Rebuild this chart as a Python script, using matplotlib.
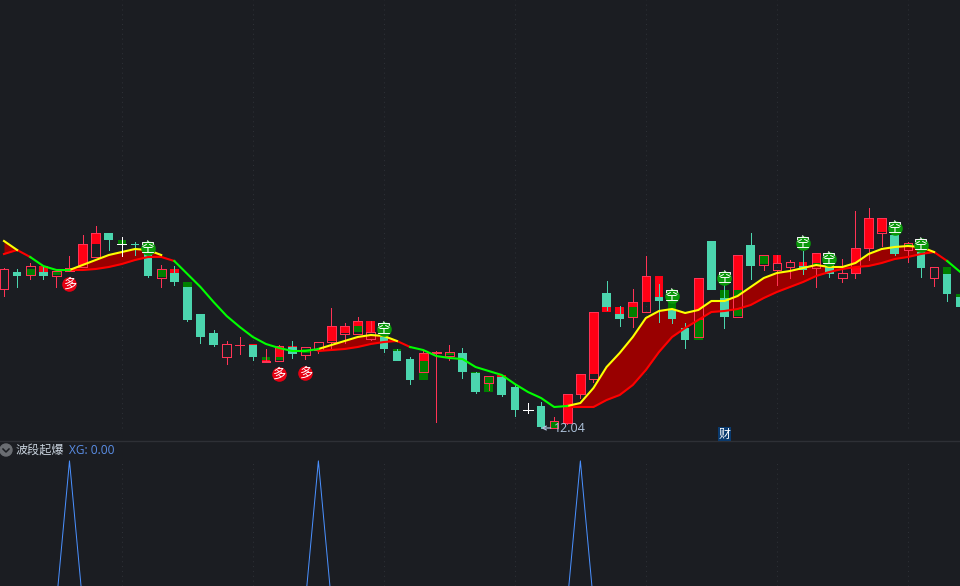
"""波段起爆 K-line chart with indicator ribbon and XG sub panel."""

import matplotlib
matplotlib.use("Agg")
import matplotlib.pyplot as plt
from matplotlib.lines import Line2D
from matplotlib.patches import Ellipse

FONT_CJK = ["Noto Sans CJK SC", "DejaVu Sans"]

opens = [14.82, 15.16, 15.10, 15.16, 15.08, 15.18, 15.26, 15.46, 15.94, 15.72,
         15.72, 15.60, 15.04, 15.14, 14.86, 14.32, 13.94, 13.46, 13.70, 13.70,
         13.36, 13.38, 13.66, 13.50, 13.60, 13.76, 13.92, 13.92, 13.82, 13.86,
         13.58, 13.42, 13.16, 13.54, 13.48, 13.54, 13.14, 12.94, 13.06, 12.86,
         12.40, 12.48, 12.04, 12.14, 12.72, 13.02, 14.74, 14.32, 14.26, 14.36,
         14.66, 14.40, 14.04, 13.86, 15.78, 14.64, 14.26, 15.70, 15.30, 15.20,
         15.26, 15.28, 15.24, 15.30, 15.04, 15.14, 15.64, 15.94, 15.90, 15.60,
         15.56, 15.04, 15.12, 14.66]
closes = [15.22, 15.08, 15.28, 15.08, 15.18, 15.24, 15.72, 15.94, 15.80, 15.72,
          15.70, 15.08, 15.22, 14.96, 14.20, 13.86, 13.70, 13.72, 13.70, 13.46,
          13.38, 13.68, 13.52, 13.66, 13.76, 14.08, 14.08, 14.18, 13.96, 13.62,
          13.38, 13.00, 13.54, 13.56, 13.56, 13.16, 12.76, 13.08, 12.70, 12.40,
          12.40, 12.06, 12.18, 12.72, 13.12, 14.36, 14.46, 14.22, 14.56, 15.08,
          14.58, 14.22, 13.80, 15.04, 14.80, 14.26, 15.50, 15.28, 15.50, 15.34,
          15.36, 15.20, 15.54, 15.12, 15.14, 15.64, 16.24, 16.24, 15.52, 15.74,
          15.24, 15.26, 14.72, 14.46]
highs = [15.24, 15.22, 15.34, 15.28, 15.18, 15.48, 15.90, 16.08, 15.94, 15.86,
         15.76, 15.60, 15.30, 15.28, 14.86, 14.32, 14.00, 13.78, 13.86, 13.70,
         13.62, 13.70, 13.78, 13.66, 13.76, 14.44, 14.14, 14.26, 14.18, 13.90,
         13.62, 13.46, 13.60, 13.58, 13.70, 13.64, 13.16, 13.08, 13.10, 12.90,
         12.54, 12.56, 12.26, 12.72, 13.12, 14.36, 14.98, 14.48, 14.82, 15.48,
         14.92, 14.40, 14.14, 15.04, 15.78, 14.90, 15.50, 15.94, 15.50, 15.50,
         15.40, 15.58, 15.54, 15.30, 15.42, 16.38, 16.44, 16.24, 15.90, 15.76,
         15.64, 15.26, 15.12, 14.66]
lows = [14.68, 14.86, 15.02, 15.02, 14.86, 15.18, 15.26, 15.46, 15.60, 15.48,
        15.50, 15.06, 14.86, 14.90, 14.18, 13.74, 13.68, 13.32, 13.52, 13.40,
        13.36, 13.38, 13.44, 13.42, 13.54, 13.60, 13.74, 13.92, 13.80, 13.56,
        13.38, 12.92, 13.16, 12.16, 13.40, 13.04, 12.74, 12.80, 12.68, 12.28,
        12.34, 12.04, 12.04, 12.12, 12.64, 12.96, 14.40, 14.08, 14.06, 14.36,
        14.16, 14.14, 13.64, 13.86, 14.80, 14.04, 14.26, 15.02, 15.20, 14.90,
        15.04, 15.12, 14.86, 15.06, 14.96, 15.04, 15.40, 15.68, 15.50, 15.36,
        15.06, 14.88, 14.58, 14.44]

# 指标柱 behind the candles
red_idx = [3, 5, 6, 7, 13, 19, 20, 21, 22, 25, 26, 27, 28, 32, 33, 38, 43, 44, 45, 46,
           47, 48, 49, 50, 53, 56, 59, 61, 62, 65, 66, 67]
red_hi = [15.28, 15.24, 15.72, 15.94, 15.22, 13.72, 13.40, 13.66, 13.68, 14.08, 14.08,
          14.16, 14.18, 13.52, 13.56, 13.10, 12.72, 13.12, 14.36, 14.46, 14.46, 14.54,
          15.08, 15.08, 15.04, 15.50, 15.50, 15.36, 15.52, 15.64, 16.24, 16.24]
red_lo = [15.16, 15.18, 15.26, 15.72, 15.14, 13.70, 13.36, 13.46, 13.66, 13.78, 13.94,
          14.08, 13.96, 13.38, 13.54, 13.06, 12.14, 12.72, 13.12, 14.36, 14.32, 14.46,
          14.56, 14.66, 14.20, 14.80, 15.34, 15.28, 15.34, 15.14, 15.64, 15.96]
green_idx = [2, 4, 9, 11, 12, 14, 20, 21, 23, 27, 30, 32, 34, 36, 37, 42, 48, 51, 53,
             55, 56, 58, 62, 69, 72, 73]
green_hi = [15.22, 15.16, 15.80, 15.72, 15.20, 14.96, 13.46, 13.46, 13.62, 14.08, 13.62,
            13.38, 13.54, 13.16, 13.06, 12.16, 14.46, 14.56, 14.20, 14.80, 14.80, 15.48,
            15.34, 15.72, 15.26, 14.72]
green_lo = [15.10, 15.10, 15.72, 15.60, 15.06, 14.86, 13.40, 13.40, 13.54, 13.96, 13.58,
            13.00, 13.50, 13.14, 12.76, 12.04, 14.24, 14.40, 13.80, 14.64, 14.28, 15.32,
            15.28, 15.62, 15.12, 14.66]

line_fast = [15.78, 15.60, 15.46, 15.28, 15.20, 15.20, 15.30, 15.40, 15.50, 15.56,
             15.62, 15.60, 15.50, 15.38, 15.12, 14.86, 14.56, 14.28, 14.06, 13.86,
             13.72, 13.64, 13.58, 13.58, 13.62, 13.70, 13.78, 13.86, 13.90, 13.88,
             13.78, 13.66, 13.60, 13.48, 13.44, 13.42, 13.26, 13.18, 13.10, 12.92,
             12.76, 12.64, 12.46, 12.48, 12.54, 12.84, 13.26, 13.54, 13.86, 14.24,
             14.38, 14.42, 14.34, 14.40, 14.58, 14.58, 14.68, 14.86, 15.04, 15.14,
             15.18, 15.24, 15.30, 15.26, 15.26, 15.34, 15.52, 15.62, 15.66, 15.68,
             15.66, 15.56, 15.38, 15.16]
line_slow = [15.52, 15.60, 15.46, 15.28, 15.20, 15.20, 15.20, 15.22, 15.26, 15.32,
             15.40, 15.46, 15.46, 15.38, 15.12, 14.86, 14.56, 14.28, 14.06, 13.86,
             13.72, 13.64, 13.58, 13.58, 13.58, 13.60, 13.62, 13.66, 13.72, 13.76,
             13.78, 13.66, 13.60, 13.48, 13.44, 13.42, 13.26, 13.18, 13.10, 12.92,
             12.76, 12.64, 12.46, 12.46, 12.46, 12.46, 12.60, 12.70, 12.90, 13.20,
             13.56, 13.86, 14.04, 14.20, 14.36, 14.38, 14.42, 14.50, 14.64, 14.76,
             14.86, 14.96, 15.08, 15.16, 15.22, 15.26, 15.28, 15.34, 15.42, 15.46,
             15.52, 15.56, 15.38, 15.16]

# (first, last) candle of each trend stretch
up_spans = [(0, 2), (5, 13), (24, 31), (43, 72)]
down_spans = [(2, 5), (13, 24), (31, 43), (72, 73)]
yellow_spans = [(0, 1), (5, 12), (24, 30), (43, 71)]

white_cross = [9, 40]
grid_idx = [9, 19, 29, 39, 49, 59, 69]

duo_idx = [5, 21, 23]
duo_price = [14.92, 13.12, 13.14]
kong_idx = [11, 29, 51, 55, 61, 63, 68, 70]
kong_price = [15.64, 14.02, 14.68, 15.04, 15.74, 15.42, 16.04, 15.70]

xg_values = [0.0] * 74
for i in (5, 24, 44):
    xg_values[i] = 1.0

BG = "#1B1D22"
TEAL = "#4BD5AE"
RED_EDGE = "#FF3355"
RED = "#FF0014"
DARK_GREEN = "#007F00"
FILL = "#990000"
LABEL = "#AFC4DC"
BLUE = "#4A90FF"
GRID = "#2F3238"
BAR_W = 0.66
LINE_W = 1.5
THIN = 0.72
XLIM = (-0.305, 72.98)


def dibujar_velas(ax):
    for i, (o, c, h, l) in enumerate(zip(opens, closes, highs, lows)):
        if i in white_cross:
            ax.vlines(i, l, h, color="white", lw=THIN, zorder=6, antialiased=False)
            ax.hlines(c, i - 0.35, i + 0.35, color="white", lw=THIN, zorder=6, antialiased=False)
            continue
        top, bot = max(o, c), min(o, c)
        if c >= o:
            color = RED_EDGE
            ax.bar(i, max(top - bot, 0.001), bottom=bot, width=BAR_W, facecolor="none",
                   edgecolor=color, lw=THIN, zorder=4, antialiased=False)
        else:
            color = TEAL
            ax.bar(i, top - bot, bottom=bot, width=BAR_W, color=color, lw=0, zorder=4,
                   antialiased=False)
        ax.vlines(i, top, h, color=color, lw=THIN, zorder=4, antialiased=False)
        ax.vlines(i, l, bot, color=color, lw=THIN, zorder=4, antialiased=False)


def dibujar_cinta(ax):
    idx = list(range(len(line_fast)))
    for a, b in up_spans:
        ax.fill_between(idx[a:b + 1], line_fast[a:b + 1], line_slow[a:b + 1],
                        color=FILL, lw=0, zorder=3)
        ax.plot(idx[a:b + 1], line_slow[a:b + 1], color="#FF0000", lw=LINE_W, zorder=5)
    for a, b in yellow_spans:
        ax.plot(idx[a:b + 1], line_fast[a:b + 1], color="#FFFF00", lw=LINE_W, zorder=5)
    for a, b in down_spans:
        ax.plot(idx[a:b + 1], line_fast[a:b + 1], color="#00FF00", lw=LINE_W, zorder=5)


def dibujar_senales(ax):
    ax.scatter(duo_idx, duo_price, s=110, color="#E60012", lw=0, zorder=7)
    ax.scatter(kong_idx, kong_price, s=110, color="#0A990A", lw=0, zorder=7)
    for x, y in zip(duo_idx, duo_price):
        ax.text(x, y, "多", color="white", fontsize=9.5, ha="center", va="center",
                family=FONT_CJK, zorder=8)
    for x, y in zip(kong_idx, kong_price):
        ax.text(x, y, "空", color="white", fontsize=10, ha="center", va="center",
                family=FONT_CJK, zorder=8)


fig = plt.figure(figsize=(9.6, 5.86), dpi=100, facecolor=BG)

ax = fig.add_axes([0, 145 / 586, 1, 441 / 586], facecolor=BG)
ax.set_xlim(*XLIM)
ax.set_ylim(11.78, 20.60)
ax.axis("off")
ax.vlines(grid_idx, 12.04, 20.60, color=GRID, lw=0.7, linestyles=(0, (1, 4)), zorder=1)
ax.bar(red_idx, [h - l for h, l in zip(red_hi, red_lo)], bottom=red_lo, width=BAR_W,
       color=RED, lw=0, zorder=2)
ax.bar(green_idx, [h - l for h, l in zip(green_hi, green_lo)], bottom=green_lo, width=BAR_W,
       color=DARK_GREEN, lw=0, zorder=2)
dibujar_cinta(ax)
dibujar_velas(ax)
dibujar_senales(ax)
ax.annotate("12.04", xy=(41.0, 12.04), xytext=(41.95, 12.04), color=LABEL, fontsize=9,
            family="Open Sans", ha="left", va="center", zorder=9,
            arrowprops=dict(arrowstyle="->", color=LABEL, lw=0.9, shrinkA=0, shrinkB=0,
                            mutation_scale=7))

sub = fig.add_axes([0, 0, 1, 145 / 586], facecolor=BG)
sub.set_xlim(*XLIM)
sub.set_ylim(0.12, 1.14)
sub.axis("off")
sub.vlines(grid_idx, 0.12, 1.0, color=GRID, lw=0.7, linestyles=(0, (1, 4)), zorder=1)
sub.plot(range(len(xg_values)), xg_values, color=BLUE, lw=0.72, zorder=3)

fig.add_artist(Line2D([0, 1], [145 / 586] * 2, color="#2E3036", lw=1))
fig.add_artist(Ellipse((6 / 960, 1 - 450 / 586), 12 / 960, 12 / 586, color="#6A6D72",
                       transform=fig.transFigure))
fig.add_artist(Line2D([3 / 960, 6 / 960, 9 / 960],
                      [1 - 449 / 586, 1 - 452 / 586, 1 - 449 / 586], color=BG, lw=1.1))
fig.text(16 / 960, 1 - 450 / 586, "波段起爆", color="#C9D3DE", fontsize=8.7,
         family=FONT_CJK, ha="left", va="center")
fig.text(69 / 960, 1 - 450 / 586, "XG: 0.00", color="#5B8FE8", fontsize=8.6,
         family="Open Sans", ha="left", va="center")
fig.text(724.5 / 960, 1 - 434 / 586, "财", color="white", fontsize=8.6, family=FONT_CJK,
         ha="center", va="center", bbox=dict(facecolor="#0A3A6E", edgecolor="none", pad=0.6))

fig.savefig("out.png", dpi=100, facecolor=BG)
